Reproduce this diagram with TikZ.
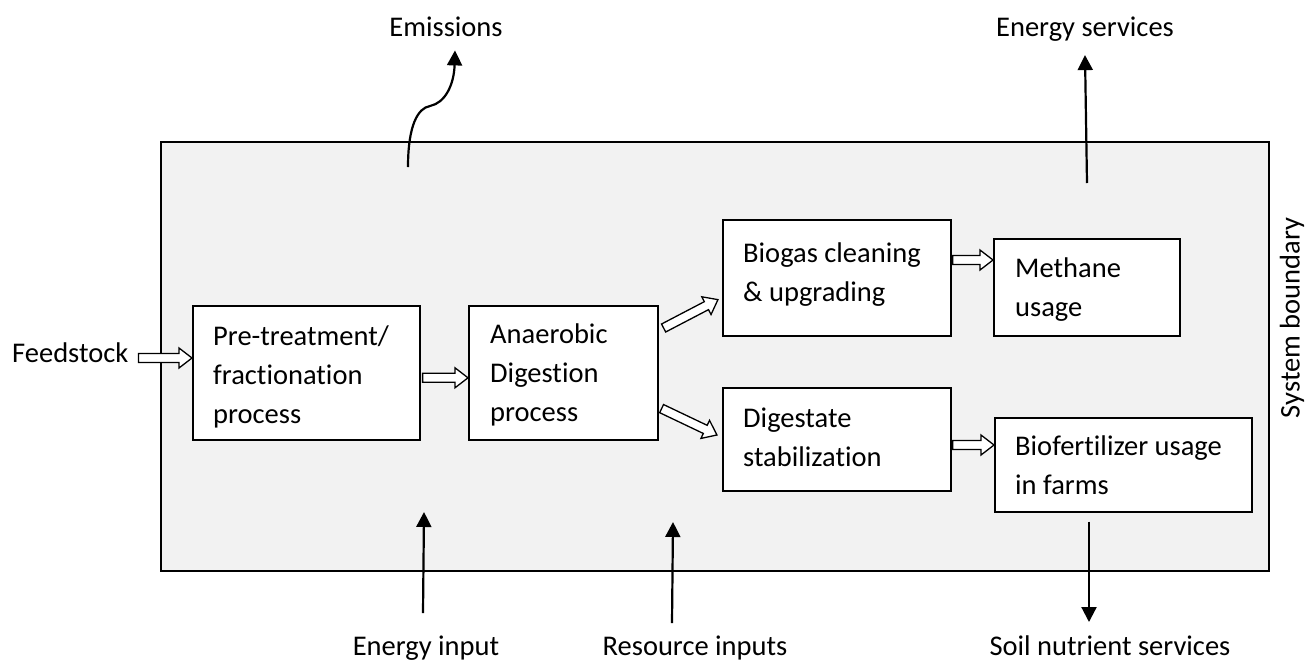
\documentclass[tikz,border=0pt]{standalone}
\usepackage{fontspec}
\setmainfont{Carlito}[Ligatures={NoCommon}]
\usetikzlibrary{arrows.meta,calc}
\definecolor{zonegray}{HTML}{F2F2F2}

\tikzset{
  boundary/.style={draw=black, fill=zonegray, line width=1.6pt, inner sep=0pt, anchor=north west},
  procbox/.style={draw=black, fill=white, line width=1.6pt, inner sep=0pt, anchor=north west},
  boxtext/.style={anchor=base west, inner sep=0pt},
  flowlabel/.style={anchor=base, inner sep=0pt},
  hollow/.style={draw=black, fill=white, line width=1.3pt, line join=miter},
  outflow/.style={line width=2.2pt, -{Triangle[length=15pt,width=15pt]}},
}

% block arrow (outlined, white inside) from coordinate #1 to coordinate #2
\newcommand{\hollowarrow}[2]{%
  \path let \p1=($(#2)-(#1)$), \n1={atan2(\y1,\x1)}, \n2={veclen(\x1,\y1)} in
    \pgfextra{\xdef\harAngle{\n1}\xdef\harLen{\n2}};
  \begin{scope}[shift={(#1)}, rotate=\harAngle, x=1pt, y=1pt]
    \draw[hollow] (0,-4.5) -- ({\harLen-13},-4.5) -- ({\harLen-13},-10) -- (\harLen,0)
      -- ({\harLen-13},10) -- ({\harLen-13},4.5) -- (0,4.5) -- cycle;
  \end{scope}}

\begin{document}
\begin{tikzpicture}[x=1pt, y=-1pt, font=\fontsize{28.5}{39}\selectfont]
\useasboundingbox (0,0) rectangle (1309,662);

% system boundary
\node[boundary, minimum width=1108pt, minimum height=429pt] (sys) at (160,141) {};
\node[rotate=90, inner sep=0pt] (sysl) at (1292,318) {System boundary};

% process boxes
\node[procbox, minimum width=227pt, minimum height=134pt] (pre)  at (192,305) {};
\node[procbox, minimum width=189pt, minimum height=134pt] (ad)   at (468,305) {};
\node[procbox, minimum width=228pt, minimum height=116pt] (bio)  at (722,219) {};
\node[procbox, minimum width=186pt, minimum height=97pt]  (meth) at (993,238) {};
\node[procbox, minimum width=228pt, minimum height=103pt] (dig)  at (722,387) {};
\node[procbox, minimum width=257pt, minimum height=94pt]  (bf)   at (994,417) {};

% box texts (the two left boxes cut their last line short)
\begin{scope}
  \clip (pre.north west) rectangle ($(pre.south east)+(0,-12)$);
  \node[boxtext] (preT) at ($(pre.north west)+(21,40)$)
    {\vtop{\hbox{Pre-treatment/}\hbox{fractionation}\hbox{process}}};
\end{scope}
\begin{scope}
  \clip (ad.north west) rectangle ($(ad.south east)+(0,-12)$);
  \node[boxtext] (adT) at ($(ad.north west)+(22,38)$)
    {\vtop{\hbox{Anaerobic}\hbox{Digestion}\hbox{process}}};
\end{scope}
\node[boxtext] (bioT)  at ($(bio.north west)+(21,43)$)  {\vtop{\hbox{Biogas cleaning}\hbox{\& upgrading}}};
\node[boxtext] (methT) at ($(meth.north west)+(22,39)$) {\vtop{\hbox{Methane}\hbox{usage}}};
\node[boxtext] (digT)  at ($(dig.north west)+(21,40)$)  {\vtop{\hbox{Digestate}\hbox{stabilization}}};
\node[boxtext] (bfT)   at ($(bf.north west)+(21,38)$)   {\vtop{\hbox{Biofertilizer usage}\hbox{in farms}}};

% outside labels
\node[anchor=base west, inner sep=0pt] (feed) at (12,362) {Feedstock};
\node[flowlabel] (emis) at (446,36)  {Emissions};
\node[flowlabel] (ens)  at (1085,36) {Energy services};
\node[flowlabel] (ein)  at (426,655) {Energy input};
\node[flowlabel] (res)  at (695,655) {Resource inputs};
\node[flowlabel] (soil) at (1110,655) {Soil nutrient services};

% block arrows between the stages
\coordinate (fs) at ($(feed.base east)+(10,-4)$);
\coordinate (fe) at (pre.west |- fs);
\hollowarrow{fs}{fe}
\coordinate (pa) at ($(pre.east)+(2,5)$);
\coordinate (pb) at (ad.west |- pa);
\hollowarrow{pa}{pb}
\coordinate (ua) at ($(ad.north east)+(5,23)$);
\coordinate (ub) at ($(bio.south west)+(-4,-37)$);
\hollowarrow{ua}{ub}
\coordinate (la) at ($(ad.south east)+(3,-32)$);
\coordinate (lb) at ($(dig.north west)+(-5,48)$);
\hollowarrow{la}{lb}
\coordinate (ma) at ($(bio.north east)+(1,41)$);
\coordinate (mb) at (meth.west |- ma);
\hollowarrow{ma}{mb}
\coordinate (da) at ($(dig.north east)+(1,58)$);
\coordinate (db) at (bf.west |- da);
\hollowarrow{da}{db}

% flows crossing the boundary
\coordinate (emisA) at (408,167);
\coordinate (emisB) at ($(emis.south)+(9,14)$);
\draw[outflow] (emisA) .. controls (408,125) and (418,108) .. (430,106)
  .. controls (445,103) and (454,85) .. (emisB);
\coordinate (ensA) at (1087,183);
\coordinate (ensB) at ($(ens.south)+(0,14)$);
\draw[outflow] (ensA) -- (ensB);
\coordinate (einA) at (423,613);
\coordinate (einB) at (424,512);
\draw[outflow] (einA) -- (einB);
\coordinate (resA) at (672,623);
\coordinate (resB) at (673,522);
\draw[outflow] (resA) -- (resB);
\coordinate (soilA) at ($(bf.south west)+(95,9)$);
\coordinate (soilB) at (soilA |- 0,622);
\draw[outflow] (soilA) -- (soilB);
\end{tikzpicture}
\end{document}
